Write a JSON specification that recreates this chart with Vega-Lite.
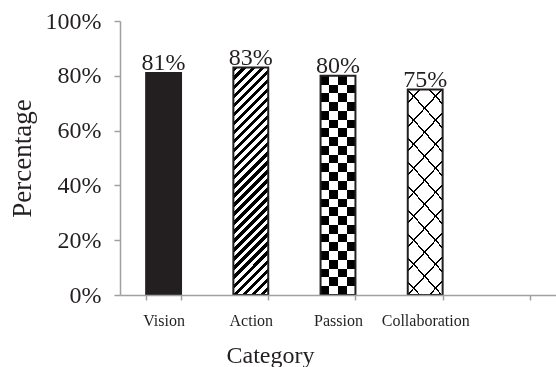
{
  "$schema": "https://vega.github.io/schema/vega-lite/v6.json",
  "width": 436,
  "height": 274,
  "autosize": "none",
  "padding": {"left": 120, "top": 21, "right": 0, "bottom": 72},
  "background": "white",
  "config": {
    "view": {"stroke": null},
    "font": "Liberation Serif"
  },
  "data": {
    "values": [
      {"Category": "Vision", "value": 0.81},
      {"Category": "Action", "value": 0.83},
      {"Category": "Passion", "value": 0.80},
      {"Category": "Collaboration", "value": 0.75}
    ]
  },
  "encoding": {
    "x": {
      "field": "Category",
      "type": "nominal",
      "sort": null,
      "scale": {"domain": ["Vision", "Action", "Passion", "Collaboration", " "], "paddingInner": 0.6, "paddingOuter": 0.3},
      "axis": {
        "title": "Category",
        "titleFont": "Liberation Serif",
        "titleFontSize": 24,
        "titleFontWeight": "normal",
        "titleColor": "#231f20",
        "titleX": 150,
        "titlePadding": 15,
        "labelFont": "Liberation Serif",
        "labelFontSize": 16,
        "labelColor": "#231f20",
        "labelAngle": 0,
        "labelPadding": 12,
        "tickBand": "extent",
        "tickSize": 5,
        "tickColor": "#a0a0a0",
        "tickWidth": 1.5,
        "domainColor": "#a0a0a0",
        "domainWidth": 1.5,
        "zindex": 1
      }
    },
    "y": {
      "field": "value",
      "type": "quantitative",
      "scale": {"domain": [0, 1]},
      "axis": {
        "title": "Percentage",
        "titleFont": "Liberation Serif",
        "titleFontSize": 27,
        "titleFontWeight": "normal",
        "titleColor": "#231f20",
        "titlePadding": 9,
        "format": ".0%",
        "values": [0, 0.2, 0.4, 0.6, 0.8, 1],
        "labelFont": "Liberation Serif",
        "labelFontSize": 24,
        "labelColor": "#231f20",
        "labelPadding": 13,
        "tickSize": 6,
        "tickColor": "#a0a0a0",
        "tickWidth": 1.5,
        "domainColor": "#a0a0a0",
        "domainWidth": 1.5,
        "grid": false
      }
    }
  },
  "layer": [
    {
      "transform": [{"filter": "datum.Category == 'Vision'"}],
      "mark": {"type": "bar", "fill": "#231f20"}
    },
    {
      "transform": [{"filter": "datum.Category == 'Action'"}],
      "mark": {
        "type": "bar",
        "fill": {
          "gradient": "linear", "x1": 0, "y1": 0, "x2": 0.1729, "y2": 1.1268,
          "stops": [
            {"offset": 0, "color": "#000"}, {"offset": 0.01724, "color": "#000"}, {"offset": 0.01724, "color": "#fff"}, {"offset": 0.03448, "color": "#fff"},
            {"offset": 0.03448, "color": "#000"}, {"offset": 0.05172, "color": "#000"}, {"offset": 0.05172, "color": "#fff"}, {"offset": 0.06897, "color": "#fff"},
            {"offset": 0.06897, "color": "#000"}, {"offset": 0.08621, "color": "#000"}, {"offset": 0.08621, "color": "#fff"}, {"offset": 0.10345, "color": "#fff"},
            {"offset": 0.10345, "color": "#000"}, {"offset": 0.12069, "color": "#000"}, {"offset": 0.12069, "color": "#fff"}, {"offset": 0.13793, "color": "#fff"},
            {"offset": 0.13793, "color": "#000"}, {"offset": 0.15517, "color": "#000"}, {"offset": 0.15517, "color": "#fff"}, {"offset": 0.17241, "color": "#fff"},
            {"offset": 0.17241, "color": "#000"}, {"offset": 0.18966, "color": "#000"}, {"offset": 0.18966, "color": "#fff"}, {"offset": 0.20690, "color": "#fff"},
            {"offset": 0.20690, "color": "#000"}, {"offset": 0.22414, "color": "#000"}, {"offset": 0.22414, "color": "#fff"}, {"offset": 0.24138, "color": "#fff"},
            {"offset": 0.24138, "color": "#000"}, {"offset": 0.25862, "color": "#000"}, {"offset": 0.25862, "color": "#fff"}, {"offset": 0.27586, "color": "#fff"},
            {"offset": 0.27586, "color": "#000"}, {"offset": 0.29310, "color": "#000"}, {"offset": 0.29310, "color": "#fff"}, {"offset": 0.31034, "color": "#fff"},
            {"offset": 0.31034, "color": "#000"}, {"offset": 0.32759, "color": "#000"}, {"offset": 0.32759, "color": "#fff"}, {"offset": 0.34483, "color": "#fff"},
            {"offset": 0.34483, "color": "#000"}, {"offset": 0.36207, "color": "#000"}, {"offset": 0.36207, "color": "#fff"}, {"offset": 0.37931, "color": "#fff"},
            {"offset": 0.37931, "color": "#000"}, {"offset": 0.39655, "color": "#000"}, {"offset": 0.39655, "color": "#fff"}, {"offset": 0.41379, "color": "#fff"},
            {"offset": 0.41379, "color": "#000"}, {"offset": 0.43103, "color": "#000"}, {"offset": 0.43103, "color": "#fff"}, {"offset": 0.44828, "color": "#fff"},
            {"offset": 0.44828, "color": "#000"}, {"offset": 0.46552, "color": "#000"}, {"offset": 0.46552, "color": "#fff"}, {"offset": 0.48276, "color": "#fff"},
            {"offset": 0.48276, "color": "#000"}, {"offset": 0.5, "color": "#000"}, {"offset": 0.5, "color": "#fff"}, {"offset": 0.51724, "color": "#fff"},
            {"offset": 0.51724, "color": "#000"}, {"offset": 0.53448, "color": "#000"}, {"offset": 0.53448, "color": "#fff"}, {"offset": 0.55172, "color": "#fff"},
            {"offset": 0.55172, "color": "#000"}, {"offset": 0.56897, "color": "#000"}, {"offset": 0.56897, "color": "#fff"}, {"offset": 0.58621, "color": "#fff"},
            {"offset": 0.58621, "color": "#000"}, {"offset": 0.60345, "color": "#000"}, {"offset": 0.60345, "color": "#fff"}, {"offset": 0.62069, "color": "#fff"},
            {"offset": 0.62069, "color": "#000"}, {"offset": 0.63793, "color": "#000"}, {"offset": 0.63793, "color": "#fff"}, {"offset": 0.65517, "color": "#fff"},
            {"offset": 0.65517, "color": "#000"}, {"offset": 0.67241, "color": "#000"}, {"offset": 0.67241, "color": "#fff"}, {"offset": 0.68966, "color": "#fff"},
            {"offset": 0.68966, "color": "#000"}, {"offset": 0.70690, "color": "#000"}, {"offset": 0.70690, "color": "#fff"}, {"offset": 0.72414, "color": "#fff"},
            {"offset": 0.72414, "color": "#000"}, {"offset": 0.74138, "color": "#000"}, {"offset": 0.74138, "color": "#fff"}, {"offset": 0.75862, "color": "#fff"},
            {"offset": 0.75862, "color": "#000"}, {"offset": 0.77586, "color": "#000"}, {"offset": 0.77586, "color": "#fff"}, {"offset": 0.79310, "color": "#fff"},
            {"offset": 0.79310, "color": "#000"}, {"offset": 0.81034, "color": "#000"}, {"offset": 0.81034, "color": "#fff"}, {"offset": 0.82759, "color": "#fff"},
            {"offset": 0.82759, "color": "#000"}, {"offset": 0.84483, "color": "#000"}, {"offset": 0.84483, "color": "#fff"}, {"offset": 0.86207, "color": "#fff"},
            {"offset": 0.86207, "color": "#000"}, {"offset": 0.87931, "color": "#000"}, {"offset": 0.87931, "color": "#fff"}, {"offset": 0.89655, "color": "#fff"},
            {"offset": 0.89655, "color": "#000"}, {"offset": 0.91379, "color": "#000"}, {"offset": 0.91379, "color": "#fff"}, {"offset": 0.93103, "color": "#fff"},
            {"offset": 0.93103, "color": "#000"}, {"offset": 0.94828, "color": "#000"}, {"offset": 0.94828, "color": "#fff"}, {"offset": 0.96552, "color": "#fff"},
            {"offset": 0.96552, "color": "#000"}, {"offset": 0.98276, "color": "#000"}, {"offset": 0.98276, "color": "#fff"}, {"offset": 1, "color": "#fff"}
          ]
        }
      }
    },
    {
      "transform": [{"filter": "datum.Category == 'Passion'"}],
      "mark": {
        "type": "bar",
        "fill": {
          "gradient": "linear", "x1": 0, "y1": 0, "x2": 0, "y2": 1,
          "stops": [
            {"offset": 0, "color": "#000"}, {"offset": 0.04, "color": "#000"}, {"offset": 0.04, "color": "#fff"}, {"offset": 0.08, "color": "#fff"},
            {"offset": 0.08, "color": "#000"}, {"offset": 0.12, "color": "#000"}, {"offset": 0.12, "color": "#fff"}, {"offset": 0.16, "color": "#fff"},
            {"offset": 0.16, "color": "#000"}, {"offset": 0.2, "color": "#000"}, {"offset": 0.2, "color": "#fff"}, {"offset": 0.24, "color": "#fff"},
            {"offset": 0.24, "color": "#000"}, {"offset": 0.28, "color": "#000"}, {"offset": 0.28, "color": "#fff"}, {"offset": 0.32, "color": "#fff"},
            {"offset": 0.32, "color": "#000"}, {"offset": 0.36, "color": "#000"}, {"offset": 0.36, "color": "#fff"}, {"offset": 0.4, "color": "#fff"},
            {"offset": 0.4, "color": "#000"}, {"offset": 0.44, "color": "#000"}, {"offset": 0.44, "color": "#fff"}, {"offset": 0.48, "color": "#fff"},
            {"offset": 0.48, "color": "#000"}, {"offset": 0.52, "color": "#000"}, {"offset": 0.52, "color": "#fff"}, {"offset": 0.56, "color": "#fff"},
            {"offset": 0.56, "color": "#000"}, {"offset": 0.6, "color": "#000"}, {"offset": 0.6, "color": "#fff"}, {"offset": 0.64, "color": "#fff"},
            {"offset": 0.64, "color": "#000"}, {"offset": 0.68, "color": "#000"}, {"offset": 0.68, "color": "#fff"}, {"offset": 0.72, "color": "#fff"},
            {"offset": 0.72, "color": "#000"}, {"offset": 0.76, "color": "#000"}, {"offset": 0.76, "color": "#fff"}, {"offset": 0.8, "color": "#fff"},
            {"offset": 0.8, "color": "#000"}, {"offset": 0.84, "color": "#000"}, {"offset": 0.84, "color": "#fff"}, {"offset": 0.88, "color": "#fff"},
            {"offset": 0.88, "color": "#000"}, {"offset": 0.92, "color": "#000"}, {"offset": 0.92, "color": "#fff"}, {"offset": 0.96, "color": "#fff"},
            {"offset": 0.96, "color": "#000"}, {"offset": 1, "color": "#000"}
          ]
        }
      }
    },
    {
      "transform": [{"filter": "datum.Category == 'Passion'"}],
      "mark": {
        "type": "bar",
        "blend": "difference",
        "fill": {
          "gradient": "linear", "x1": 0, "y1": 0, "x2": 1, "y2": 0,
          "stops": [
            {"offset": 0, "color": "rgba(255,255,255,0)"}, {"offset": 0.25, "color": "rgba(255,255,255,0)"},
            {"offset": 0.25, "color": "#fff"}, {"offset": 0.5, "color": "#fff"},
            {"offset": 0.5, "color": "rgba(255,255,255,0)"}, {"offset": 0.75, "color": "rgba(255,255,255,0)"},
            {"offset": 0.75, "color": "#fff"}, {"offset": 1, "color": "#fff"}
          ]
        }
      }
    },
    {
      "transform": [{"filter": "datum.Category == 'Collaboration'"}],
      "mark": {
        "type": "bar",
        "fill": {
          "gradient": "linear", "x1": 0, "y1": 0, "x2": 0.213, "y2": 1.146,
          "stops": [
            {"offset": 0, "color": "#fff"},
            {"offset": 0.0500, "color": "#fff"}, {"offset": 0.0500, "color": "#000"}, {"offset": 0.0584, "color": "#000"}, {"offset": 0.0584, "color": "#fff"},
            {"offset": 0.1485, "color": "#fff"}, {"offset": 0.1485, "color": "#000"}, {"offset": 0.1569, "color": "#000"}, {"offset": 0.1569, "color": "#fff"},
            {"offset": 0.2470, "color": "#fff"}, {"offset": 0.2470, "color": "#000"}, {"offset": 0.2554, "color": "#000"}, {"offset": 0.2554, "color": "#fff"},
            {"offset": 0.3456, "color": "#fff"}, {"offset": 0.3456, "color": "#000"}, {"offset": 0.3540, "color": "#000"}, {"offset": 0.3540, "color": "#fff"},
            {"offset": 0.4441, "color": "#fff"}, {"offset": 0.4441, "color": "#000"}, {"offset": 0.4525, "color": "#000"}, {"offset": 0.4525, "color": "#fff"},
            {"offset": 0.5426, "color": "#fff"}, {"offset": 0.5426, "color": "#000"}, {"offset": 0.5510, "color": "#000"}, {"offset": 0.5510, "color": "#fff"},
            {"offset": 0.6411, "color": "#fff"}, {"offset": 0.6411, "color": "#000"}, {"offset": 0.6495, "color": "#000"}, {"offset": 0.6495, "color": "#fff"},
            {"offset": 0.7396, "color": "#fff"}, {"offset": 0.7396, "color": "#000"}, {"offset": 0.7480, "color": "#000"}, {"offset": 0.7480, "color": "#fff"},
            {"offset": 0.8382, "color": "#fff"}, {"offset": 0.8382, "color": "#000"}, {"offset": 0.8466, "color": "#000"}, {"offset": 0.8466, "color": "#fff"},
            {"offset": 0.9367, "color": "#fff"}, {"offset": 0.9367, "color": "#000"}, {"offset": 0.9451, "color": "#000"}, {"offset": 0.9451, "color": "#fff"},
            {"offset": 1, "color": "#fff"}
          ]
        }
      }
    },
    {
      "transform": [{"filter": "datum.Category == 'Collaboration'"}],
      "mark": {
        "type": "bar",
        "fill": {
          "gradient": "linear", "x1": 0, "y1": 1, "x2": 0.213, "y2": -0.146,
          "stops": [
            {"offset": 0, "color": "rgba(255,255,255,0)"},
            {"offset": 0.0500, "color": "rgba(255,255,255,0)"}, {"offset": 0.0500, "color": "#000"}, {"offset": 0.0584, "color": "#000"}, {"offset": 0.0584, "color": "rgba(255,255,255,0)"},
            {"offset": 0.1485, "color": "rgba(255,255,255,0)"}, {"offset": 0.1485, "color": "#000"}, {"offset": 0.1569, "color": "#000"}, {"offset": 0.1569, "color": "rgba(255,255,255,0)"},
            {"offset": 0.2470, "color": "rgba(255,255,255,0)"}, {"offset": 0.2470, "color": "#000"}, {"offset": 0.2554, "color": "#000"}, {"offset": 0.2554, "color": "rgba(255,255,255,0)"},
            {"offset": 0.3456, "color": "rgba(255,255,255,0)"}, {"offset": 0.3456, "color": "#000"}, {"offset": 0.3540, "color": "#000"}, {"offset": 0.3540, "color": "rgba(255,255,255,0)"},
            {"offset": 0.4441, "color": "rgba(255,255,255,0)"}, {"offset": 0.4441, "color": "#000"}, {"offset": 0.4525, "color": "#000"}, {"offset": 0.4525, "color": "rgba(255,255,255,0)"},
            {"offset": 0.5426, "color": "rgba(255,255,255,0)"}, {"offset": 0.5426, "color": "#000"}, {"offset": 0.5510, "color": "#000"}, {"offset": 0.5510, "color": "rgba(255,255,255,0)"},
            {"offset": 0.6411, "color": "rgba(255,255,255,0)"}, {"offset": 0.6411, "color": "#000"}, {"offset": 0.6495, "color": "#000"}, {"offset": 0.6495, "color": "rgba(255,255,255,0)"},
            {"offset": 0.7396, "color": "rgba(255,255,255,0)"}, {"offset": 0.7396, "color": "#000"}, {"offset": 0.7480, "color": "#000"}, {"offset": 0.7480, "color": "rgba(255,255,255,0)"},
            {"offset": 0.8382, "color": "rgba(255,255,255,0)"}, {"offset": 0.8382, "color": "#000"}, {"offset": 0.8466, "color": "#000"}, {"offset": 0.8466, "color": "rgba(255,255,255,0)"},
            {"offset": 0.9367, "color": "rgba(255,255,255,0)"}, {"offset": 0.9367, "color": "#000"}, {"offset": 0.9451, "color": "#000"}, {"offset": 0.9451, "color": "rgba(255,255,255,0)"},
            {"offset": 1, "color": "rgba(255,255,255,0)"}
          ]
        }
      }
    },
    {
      "mark": {"type": "bar", "fill": "transparent", "stroke": "#231f20", "strokeWidth": 2}
    },
    {
      "mark": {"type": "text", "font": "Liberation Serif", "fontSize": 24, "color": "#231f20", "baseline": "alphabetic", "dy": -3},
      "encoding": {
        "text": {"field": "value", "type": "quantitative", "format": ".0%"}
      }
    }
  ]
}
